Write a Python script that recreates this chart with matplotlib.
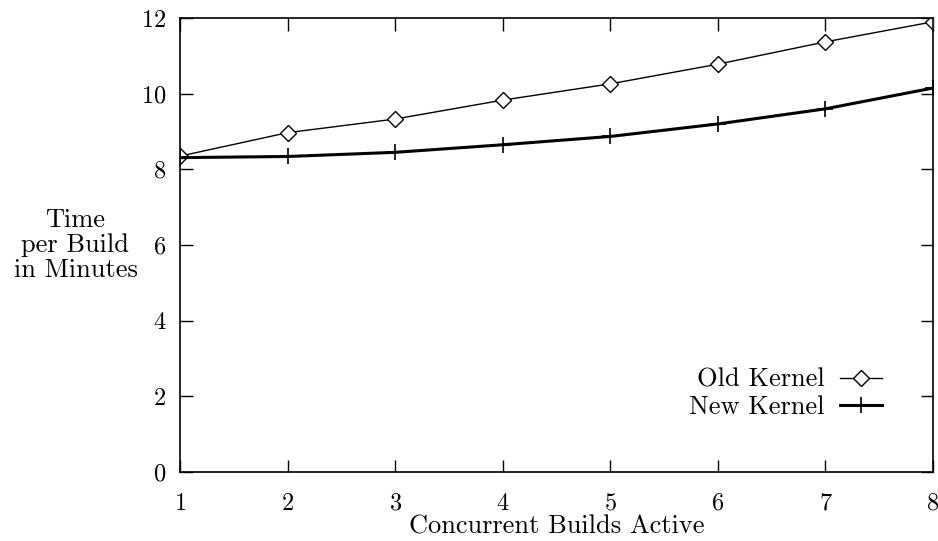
import matplotlib
matplotlib.use("Agg")
import matplotlib.pyplot as plt

# data
builds = [1, 2, 3, 4, 5, 6, 7, 8]
old_kernel = [8.35, 8.97, 9.33, 9.83, 10.26, 10.78, 11.37, 11.9]
new_kernel = [8.31, 8.34, 8.45, 8.65, 8.87, 9.2, 9.6, 10.15]

plt.rcParams['font.family'] = ['cmr10', 'DejaVu Serif']
plt.rcParams['axes.formatter.use_mathtext'] = True
plt.rcParams['font.size'] = 19

fig = plt.figure(figsize=(9.38, 5.41), dpi=100)
ax = fig.add_axes([0.192, 0.1275, 0.8027, 0.8392])

ax.plot(builds, old_kernel, color='black', lw=1.0, marker='D', markersize=8.5,
        markerfacecolor='white', markeredgewidth=1.0, label='Old Kernel')
ax.plot(builds, new_kernel, color='black', lw=2.2, marker='+', markersize=12,
        markeredgewidth=1.2, label='New Kernel')

ax.set_xlim(1, 8)
ax.set_ylim(0, 12)
ax.set_xticks(builds)
ax.set_yticks([0, 2, 4, 6, 8, 10, 12])
ax.tick_params(direction='in', top=True, right=True, length=9, width=1,
               labelsize=17.5)
ax.tick_params(axis='x', pad=15)
ax.tick_params(axis='y', pad=10)
for s in ax.spines.values():
    s.set_linewidth(1.2)

ax.set_xlabel('Concurrent Builds Active', labelpad=0)
ax.set_ylabel('Time\nper Build\nin Minutes', rotation=0, ha='center', va='center',
              labelpad=0, linespacing=1.05)
ax.yaxis.set_label_coords(-0.139, 0.5)

ax.legend(loc='center right', bbox_to_anchor=(0.932, 0.173), frameon=False,
          markerfirst=False, handlelength=1.6, handletextpad=0.57,
          labelspacing=0.12, borderaxespad=0, borderpad=0)

fig.savefig('out.png', dpi=100)
